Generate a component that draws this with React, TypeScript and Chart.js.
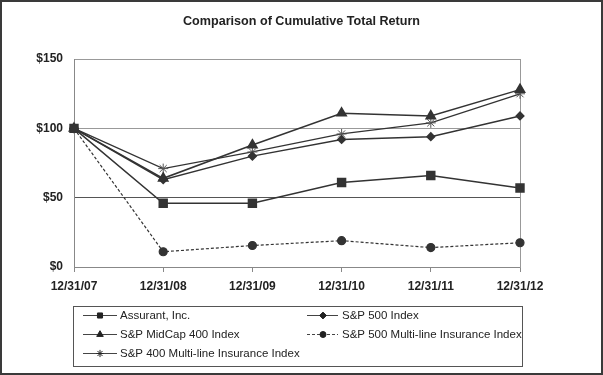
import React, { useEffect, useRef } from "react";
import { Chart, registerables } from "chart.js";
import { drawPoint } from "chart.js/helpers";

Chart.register(...registerables);

const categories = ["12/31/07", "12/31/08", "12/31/09", "12/31/10", "12/31/11", "12/31/12"];
const assurant = [100, 46, 46, 61, 66, 57];
const sp500 = [100, 63, 80, 92, 94, 109];
const midcap400 = [100, 64, 88, 111, 109, 128];
const sp500MultiLine = [100, 11, 15.5, 19, 14, 17.5];
const sp400MultiLine = [100, 71, 83, 96, 104, 125];
const yTicks = [0, 50, 100, 150];
const titleText = "Comparison of Cumulative Total Return";

const FONT = "'Liberation Sans', Arial, Helvetica, sans-serif";
const LINE = "#333333";

const legendItems = [
  { label: "Assurant, Inc.", style: "rect", r: 3.6, dash: [] as number[], col: 0, row: 0 },
  { label: "S&P 500 Index", style: "rectRot", r: 3.4, dash: [] as number[], col: 1, row: 0 },
  { label: "S&P MidCap 400 Index", style: "triangle", r: 3.8, dash: [] as number[], col: 0, row: 1 },
  { label: "S&P 500 Multi-line Insurance Index", style: "circle", r: 3, dash: [3, 2], col: 1, row: 1 },
  { label: "S&P 400 Multi-line Insurance Index", style: "star", r: 3.6, dash: [] as number[], col: 0, row: 2 },
];

const legendPlugin = {
  id: "boxLegend",
  afterDraw(chart: any) {
    const ctx = chart.ctx as CanvasRenderingContext2D;
    ctx.save();
    ctx.strokeStyle = "#555";
    ctx.lineWidth = 1;
    ctx.strokeRect(73.5, 306.5, 449, 60);
    const cols = [
      { x0: 83, x1: 117, mx: 100, tx: 120 },
      { x0: 307, x1: 338, mx: 323, tx: 342 },
    ];
    const rows = [315.5, 334.5, 353.5];
    ctx.font = `11.5px ${FONT}`;
    ctx.textBaseline = "middle";
    ctx.textAlign = "left";
    legendItems.forEach((it) => {
      const c = cols[it.col];
      const y = rows[it.row];
      ctx.strokeStyle = "#444";
      ctx.lineWidth = 1;
      ctx.setLineDash(it.dash);
      ctx.beginPath();
      ctx.moveTo(c.x0, y);
      ctx.lineTo(c.x1, y);
      ctx.stroke();
      ctx.setLineDash([]);
      ctx.fillStyle = "#222";
      ctx.strokeStyle = "#222";
      drawPoint(ctx, { pointStyle: it.style, radius: it.r, rotation: 0, borderWidth: 1 } as any, c.mx, y);
      ctx.fillStyle = "#222";
      ctx.fillText(it.label, c.tx, y + 0.5);
    });
    ctx.restore();
  },
};

export default function App() {
  const ref = useRef<HTMLCanvasElement>(null);
  useEffect(() => {
    document.body.style.margin = "0";
    const common = { borderColor: LINE, backgroundColor: LINE, pointBackgroundColor: LINE, pointBorderColor: LINE, borderWidth: 1.5, fill: false, tension: 0 };
    const chart = new Chart(ref.current as HTMLCanvasElement, {
      type: "line",
      data: {
        labels: categories,
        datasets: [
          { ...common, label: "Assurant, Inc.", data: assurant, pointStyle: "rect", pointRadius: 5.6 },
          { ...common, label: "S&P 500 Index", data: sp500, pointStyle: "rectRot", pointRadius: 3.8 },
          { ...common, label: "S&P MidCap 400 Index", data: midcap400, pointStyle: "triangle", pointRadius: 5.4 },
          { ...common, label: "S&P 500 Multi-line Insurance Index", data: sp500MultiLine, pointStyle: "circle", pointRadius: 4, borderDash: [3, 2], borderWidth: 1.2 },
          { ...common, label: "S&P 400 Multi-line Insurance Index", data: sp400MultiLine, pointStyle: "star", pointRadius: 5, pointBorderColor: "#555", pointBorderWidth: 1, borderWidth: 1.3 },
        ],
      },
      options: {
        animation: false,
        responsive: false,
        events: [],
        layout: { padding: { left: 0, right: 0, top: 0, bottom: 78 } },
        plugins: {
          legend: { display: false },
          tooltip: { enabled: false },
          title: {
            display: true,
            text: titleText,
            color: "#222",
            font: { family: FONT, size: 12.6, weight: "bold" },
            padding: { top: 14, bottom: 30 },
          },
        },
        scales: {
          x: {
            type: "category",
            offset: false,
            grid: { display: true, drawOnChartArea: false, drawTicks: true, tickLength: 5, color: "#888" },
            border: { color: "#888", width: 1 },
            ticks: { color: "#222", font: { family: FONT, size: 12, weight: "bold" }, padding: 7, maxRotation: 0, autoSkip: false },
            afterFit: (s: any) => { s.height = 30; },
          },
          y: {
            min: 0,
            max: 150,
            afterBuildTicks: (s: any) => { s.ticks = yTicks.map((v) => ({ value: v })); },
            grid: {
              drawTicks: false,
              color: (c: any) => (c.tick && c.tick.value === 50 ? "#555" : "#999"),
              lineWidth: 1,
            },
            border: { color: "#888", width: 1 },
            ticks: { color: "#222", font: { family: FONT, size: 12, weight: "bold" }, padding: 11, callback: (v: any) => `$${v}` },
            afterFit: (s: any) => { s.width = 74; },
          },
          y2: {
            position: "right",
            min: 0,
            max: 150,
            grid: { display: true, drawOnChartArea: false, drawTicks: false },
            border: { color: "#999", width: 1 },
            ticks: { display: false },
            afterFit: (s: any) => { s.width = 83; },
          },
        },
      },
      plugins: [legendPlugin],
    } as any);
    return () => chart.destroy();
  }, []);
  return (
    <div style={{ position: "relative", width: 603, height: 375, background: "#fff" }}>
      <canvas ref={ref} width={603} height={375} style={{ display: "block" }} />
      <div style={{ position: "absolute", inset: 0, border: "2px solid #3a3a3a", pointerEvents: "none" }} />
    </div>
  );
}
